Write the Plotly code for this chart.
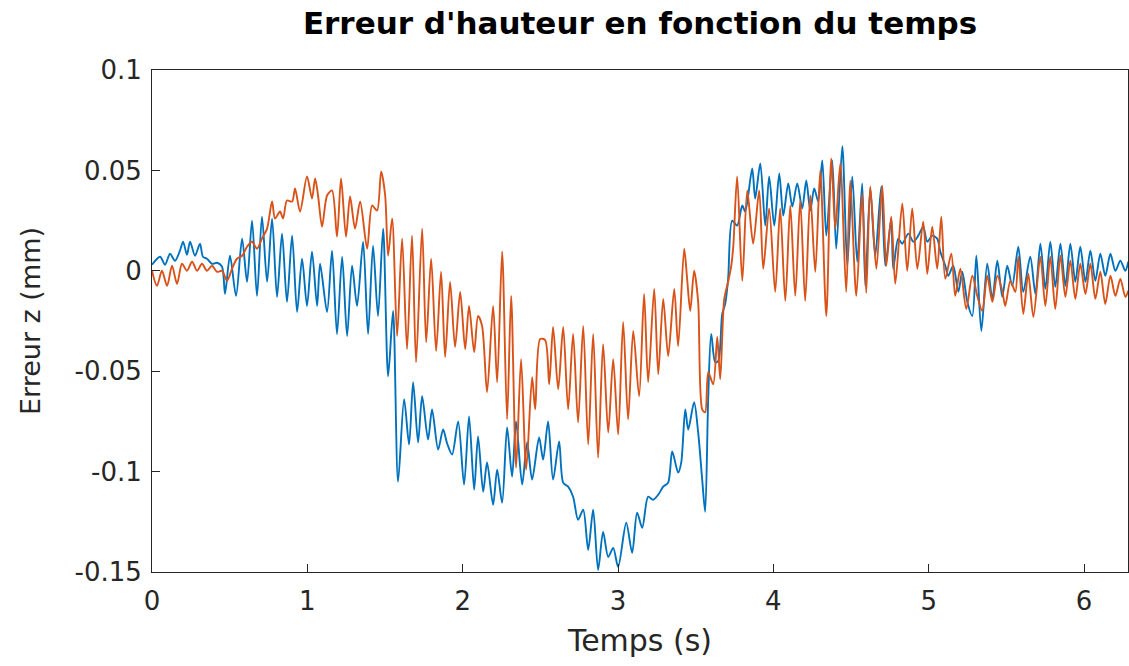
import plotly.graph_objects as go

# Blue series (time in s, error in mm)
t_blue = [0.000, 0.052, 0.084, 0.116, 0.148, 0.180, 0.200, 0.225, 0.245, 0.277, 0.309, 0.328, 0.354, 0.386, 0.419, 0.451,
          0.470, 0.502, 0.541, 0.580, 0.612, 0.644, 0.676, 0.708, 0.741, 0.773, 0.805, 0.837, 0.869, 0.902, 0.934, 0.966,
          0.998, 1.030, 1.063, 1.082, 1.127, 1.159, 1.191, 1.224, 1.256, 1.288, 1.320, 1.359, 1.391, 1.423, 1.455, 1.488,
          1.520, 1.552, 1.584, 1.623, 1.655, 1.681, 1.713, 1.739, 1.777, 1.803, 1.842, 1.874, 1.900, 1.932, 1.971, 2.009,
          2.041, 2.074, 2.099, 2.132, 2.157, 2.196, 2.222, 2.254, 2.286, 2.318, 2.344, 2.383, 2.415, 2.447, 2.492, 2.518,
          2.550, 2.582, 2.621, 2.647, 2.679, 2.711, 2.743, 2.776, 2.808, 2.840, 2.872, 2.904, 2.937, 2.969, 3.001, 3.053,
          3.091, 3.123, 3.156, 3.194, 3.226, 3.259, 3.291, 3.323, 3.349, 3.387, 3.407, 3.433, 3.452, 3.490, 3.516, 3.542,
          3.561, 3.581, 3.600, 3.626, 3.645, 3.671, 3.690, 3.709, 3.735, 3.767, 3.800, 3.819, 3.864, 3.883, 3.916, 3.948,
          3.973, 4.006, 4.038, 4.064, 4.096, 4.122, 4.154, 4.186, 4.212, 4.238, 4.263, 4.289, 4.315, 4.341, 4.379, 4.405,
          4.444, 4.476, 4.508, 4.540, 4.572, 4.592, 4.624, 4.656, 4.695, 4.721, 4.759, 4.772, 4.804, 4.830, 4.869, 4.901,
          4.933, 4.965, 4.991, 5.023, 5.055, 5.075, 5.107, 5.126, 5.158, 5.191, 5.216, 5.249, 5.281, 5.307, 5.339, 5.377,
          5.410, 5.442, 5.474, 5.506, 5.538, 5.577, 5.609, 5.654, 5.687, 5.719, 5.751, 5.783, 5.815, 5.848, 5.880, 5.912,
          5.944, 5.976, 6.009, 6.041, 6.073, 6.105, 6.137, 6.170, 6.202, 6.234, 6.266, 6.285]
e_blue = [0.003, 0.007, 0.003, 0.0085, 0.005, 0.010, 0.0145, 0.008, 0.0145, 0.0075, 0.0135, 0.007, 0.006, 0.0035, 0.004, 0.002,
          -0.0115, 0.0075, -0.0125, 0.016, -0.0055, 0.025, -0.0125, 0.027, -0.0055, 0.026, -0.013, 0.0185, -0.0155, 0.0175, -0.0205, 0.006,
          -0.0175, 0.0095, -0.0175, 0.0035, -0.0205, 0.010, -0.0315, 0.007, -0.0325, 0.0025, -0.0175, 0.0145, -0.0315, 0.0125, -0.0225, 0.021,
          -0.0525, -0.020, -0.105, -0.064, -0.0865, -0.0555, -0.0855, -0.0625, -0.084, -0.069, -0.089, -0.079, -0.086, -0.0915, -0.075, -0.1065,
          -0.0725, -0.109, -0.0825, -0.110, -0.0955, -0.1165, -0.099, -0.1155, -0.078, -0.1025, -0.075, -0.1065, -0.0855, -0.104, -0.083, -0.094,
          -0.075, -0.104, -0.085, -0.1055, -0.1075, -0.1125, -0.124, -0.119, -0.139, -0.119, -0.149, -0.130, -0.1425, -0.138, -0.1475, -0.1255,
          -0.1405, -0.1205, -0.128, -0.1125, -0.114, -0.1115, -0.1075, -0.1055, -0.090, -0.1005, -0.0955, -0.069, -0.079, -0.0655, -0.0805, -0.104,
          -0.120, -0.0625, -0.0315, -0.0455, -0.045, -0.0215, -0.0165, -0.004, 0.025, 0.0225, 0.0325, 0.0295, 0.051, 0.036, 0.0535, 0.0225,
          0.047, 0.0225, 0.0485, 0.0275, 0.0435, 0.032, 0.0435, 0.031, 0.045, 0.030, 0.041, 0.0345, 0.055, 0.0175, 0.055, 0.011,
          0.062, 0.0025, 0.047, 0.0045, 0.0435, -0.0075, 0.041, 0.0075, 0.042, 0.0025, 0.026, 0.001, 0.016, 0.0135, 0.0185, 0.0145,
          0.0175, 0.022, 0.0145, 0.0175, 0.016, 0.0095, 0.0025, -0.0025, 0.0025, -0.0105, -0.0005, -0.0155, -0.0225, 0.0075, -0.030, 0.0035,
          -0.014, 0.005, -0.013, 0.0025, -0.0075, 0.012, -0.0105, 0.007, -0.0115, 0.0135, -0.009, 0.0145, -0.008, 0.0135, -0.0075, 0.0135,
          -0.0055, 0.012, -0.0055, 0.010, -0.005, 0.0085, -0.0025, 0.0085, 0.000, 0.005, 0.000, 0.0045]

# Orange series
t_orange = [0.000, 0.032, 0.064, 0.097, 0.129, 0.161, 0.193, 0.225, 0.258, 0.290, 0.322, 0.354, 0.386, 0.419, 0.451, 0.483,
            0.515, 0.547, 0.580, 0.612, 0.644, 0.676, 0.708, 0.741, 0.773, 0.792, 0.824, 0.844, 0.869, 0.902, 0.921, 0.953,
            0.998, 1.030, 1.050, 1.069, 1.095, 1.127, 1.159, 1.191, 1.217, 1.249, 1.275, 1.307, 1.340, 1.385, 1.417, 1.449,
            1.475, 1.501, 1.520, 1.546, 1.578, 1.610, 1.642, 1.674, 1.700, 1.739, 1.765, 1.797, 1.829, 1.861, 1.887, 1.919,
            1.951, 1.984, 2.016, 2.041, 2.074, 2.099, 2.125, 2.157, 2.196, 2.222, 2.254, 2.286, 2.312, 2.344, 2.376, 2.409,
            2.447, 2.467, 2.499, 2.531, 2.557, 2.582, 2.615, 2.647, 2.679, 2.711, 2.743, 2.776, 2.808, 2.840, 2.872, 2.904,
            2.937, 2.969, 3.001, 3.033, 3.065, 3.098, 3.136, 3.168, 3.194, 3.233, 3.259, 3.291, 3.323, 3.362, 3.387, 3.426,
            3.445, 3.465, 3.490, 3.516, 3.542, 3.561, 3.581, 3.613, 3.639, 3.658, 3.684, 3.709, 3.729, 3.742, 3.767, 3.800,
            3.832, 3.870, 3.909, 3.935, 3.973, 4.012, 4.044, 4.077, 4.109, 4.141, 4.173, 4.205, 4.238, 4.270, 4.302, 4.341,
            4.373, 4.399, 4.431, 4.469, 4.495, 4.534, 4.572, 4.598, 4.624, 4.663, 4.701, 4.727, 4.759, 4.785, 4.830, 4.862,
            4.894, 4.927, 4.965, 4.991, 5.023, 5.055, 5.081, 5.107, 5.146, 5.171, 5.204, 5.242, 5.281, 5.313, 5.345, 5.377,
            5.410, 5.442, 5.474, 5.493, 5.526, 5.558, 5.577, 5.609, 5.641, 5.674, 5.719, 5.751, 5.783, 5.815, 5.848, 5.880,
            5.912, 5.944, 5.976, 6.009, 6.041, 6.073, 6.105, 6.137, 6.170, 6.202, 6.234, 6.266, 6.285]
e_orange = [0.000, -0.0075, 0.000, -0.0075, 0.0025, -0.0065, 0.0035, 0.000, 0.0045, 0.000, 0.0035, 0.000, 0.0025, -0.0005, 0.000, -0.005,
            0.001, 0.006, 0.0075, 0.012, 0.0145, 0.011, 0.016, 0.021, 0.0345, 0.026, 0.0295, 0.026, 0.035, 0.0345, 0.041, 0.0295,
            0.047, 0.036, 0.046, 0.0375, 0.022, 0.0375, 0.040, 0.017, 0.046, 0.017, 0.037, 0.021, 0.0345, 0.011, 0.0325, 0.030,
            0.0495, 0.0375, 0.0075, 0.026, -0.0325, 0.016, -0.039, 0.0175, -0.0455, 0.021, -0.0355, 0.006, -0.040, -0.0005, -0.043, -0.0055,
            -0.038, -0.0105, -0.039, -0.0175, -0.0405, -0.0225, -0.0275, -0.0605, -0.0175, -0.0555, 0.0095, -0.074, -0.0125, -0.098, -0.044, -0.099,
            -0.053, -0.069, -0.034, -0.0345, -0.0565, -0.028, -0.059, -0.028, -0.069, -0.0315, -0.0755, -0.0275, -0.0865, -0.0315, -0.093, -0.0365,
            -0.0805, -0.044, -0.0815, -0.0255, -0.074, -0.030, -0.0625, -0.0115, -0.0555, -0.009, -0.0515, -0.014, -0.0425, -0.009, -0.0375, 0.011,
            -0.004, -0.020, 0.000, -0.0155, -0.069, -0.0705, -0.0505, -0.0565, -0.033, -0.054, -0.014, -0.0055, 0.0025, 0.012, 0.047, -0.005,
            0.040, 0.0135, 0.040, 0.001, 0.031, -0.0105, 0.031, -0.015, 0.0325, -0.0125, 0.035, -0.015, 0.0375, -0.0005, 0.050, -0.0225,
            0.056, 0.021, 0.0535, -0.0105, 0.045, -0.0125, 0.0385, -0.011, 0.042, 0.001, 0.0425, 0.0025, 0.027, -0.0065, 0.0335, 0.000,
            0.031, 0.001, 0.0245, -0.0015, 0.022, 0.001, 0.027, -0.004, 0.0085, -0.0125, 0.001, -0.019, -0.0025, -0.0125, -0.020, -0.0025,
            -0.0155, -0.0025, -0.010, -0.0175, -0.005, -0.0105, 0.007, -0.0215, -0.0015, -0.023, 0.007, -0.0175, 0.007, -0.019, 0.0075, -0.013,
            0.005, -0.014, 0.0035, -0.0115, 0.0035, -0.014, -0.0005, -0.0165, -0.0025, -0.0125, -0.004, -0.013, -0.010]

x_ticks = [0, 1, 2, 3, 4, 5, 6]
y_ticks = [-0.15, -0.1, -0.05, 0, 0.05, 0.1]
y_tick_labels = ["-0.15", "-0.1", "-0.05", "0", "0.05", "0.1"]

FONT = "DejaVu Sans"
AXC = "#262626"

fig = go.Figure()
fig.add_trace(go.Scatter(x=t_blue, y=e_blue, mode="lines",
                         line=dict(color="#0072BD", width=1.9, shape="spline", smoothing=0.8),
                         showlegend=False))
fig.add_trace(go.Scatter(x=t_orange, y=e_orange, mode="lines",
                         line=dict(color="#D95319", width=1.9, shape="spline", smoothing=0.8),
                         showlegend=False))

fig.update_layout(
    width=1129, height=666,
    margin=dict(l=152, r=1, t=70, b=94),
    paper_bgcolor="white", plot_bgcolor="white",
    title=dict(text="<b>Erreur d'hauteur en fonction du temps</b>",
               x=(152 + 1128) / 2 / 1129, xanchor="center",
               y=1 - 23 / 666, yanchor="middle", yref="container",
               font=dict(family=FONT, size=31, color="black")),
    font=dict(family=FONT, color=AXC),
)
fig.update_xaxes(range=[0, 6.2832], tickvals=x_ticks, ticks="inside", ticklen=8,
                 tickcolor=AXC, showline=True, linecolor=AXC, linewidth=1, mirror=True,
                 showgrid=False, zeroline=False, tickfont=dict(size=26, color=AXC),
                 ticklabelstandoff=6,
                 title=dict(text="Temps (s)", font=dict(size=30, color=AXC), standoff=14))
fig.update_yaxes(range=[-0.15, 0.1], tickvals=y_ticks, ticktext=y_tick_labels, ticks="inside", ticklen=8,
                 tickcolor=AXC, showline=True, linecolor=AXC, linewidth=1, mirror=True,
                 showgrid=False, zeroline=False, tickfont=dict(size=26, color=AXC),
                 ticklabelstandoff=4,
                 title=dict(text="Erreur z (mm)", font=dict(size=27, color=AXC), standoff=26))

fig.write_html("out.html", config={"displayModeBar": False},
               post_script="document.body.style.margin='0px';")
